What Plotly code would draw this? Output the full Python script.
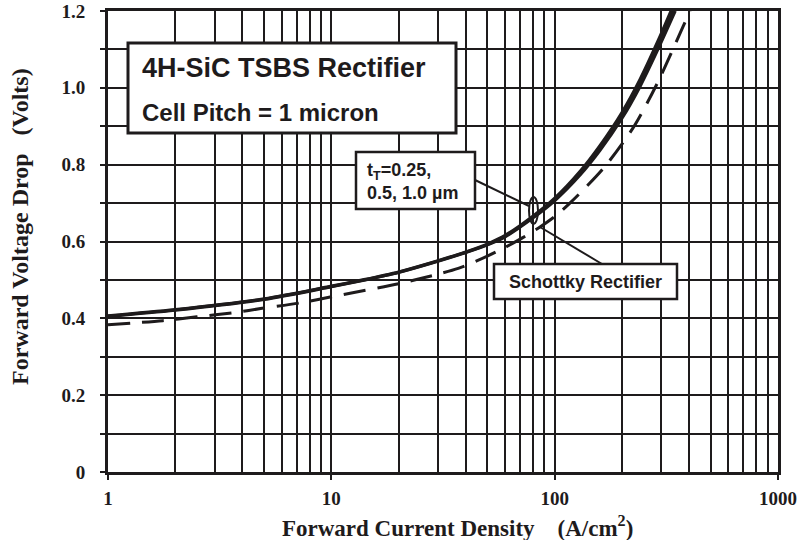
import plotly.graph_objects as go

# Forward current density (A/cm^2) and forward voltage drop (V)
tsbs_current = [1, 2, 5, 10, 14, 20, 28, 40, 51, 60, 79, 100, 130, 160, 200, 241, 290, 347]
tsbs_025_v = [0.405, 0.421, 0.449, 0.482, 0.499, 0.519, 0.543, 0.571, 0.593, 0.612, 0.659, 0.706, 0.773, 0.838, 0.920, 1.003, 1.100, 1.200]
tsbs_050_v = [0.406, 0.422, 0.450, 0.483, 0.500, 0.520, 0.544, 0.572, 0.594, 0.614, 0.661, 0.709, 0.778, 0.844, 0.928, 1.012, 1.111, 1.213]
tsbs_100_v = [0.407, 0.423, 0.451, 0.484, 0.501, 0.521, 0.545, 0.573, 0.596, 0.616, 0.664, 0.713, 0.783, 0.851, 0.936, 1.022, 1.122, 1.227]

schottky_current = [1, 1.76, 2.5, 3.7, 4.9, 7.4, 10, 20, 30, 37, 45, 57, 72, 85, 100, 117, 165, 224, 287, 376, 404]
schottky_v = [0.383, 0.394, 0.404, 0.415, 0.426, 0.441, 0.456, 0.490, 0.515, 0.530, 0.550, 0.578, 0.610, 0.636, 0.665, 0.700, 0.790, 0.895, 1.010, 1.160, 1.200]

x_major = [1, 10, 100, 1000]
x_minor = [m * d for d in (1, 10, 100) for m in range(2, 10)]
y_major = [0, 0.2, 0.4, 0.6, 0.8, 1.0, 1.2]
y_labels = ["0", "0.2", "0.4", "0.6", "0.8", "1.0", "1.2"]

INK = "#1e1b1c"
SERIF = "Liberation Serif, Times New Roman, serif"
SANS = "Liberation Sans, Arial, sans-serif"

fig = go.Figure()

for v in (tsbs_025_v, tsbs_050_v, tsbs_100_v):
    fig.add_trace(go.Scatter(x=tsbs_current, y=v, mode="lines",
                             line=dict(color=INK, width=3, shape="spline", smoothing=0.8),
                             showlegend=False, hoverinfo="skip"))

fig.add_trace(go.Scatter(x=schottky_current, y=schottky_v, mode="lines",
                         line=dict(color=INK, width=3, dash="22px,12px", shape="spline", smoothing=0.8),
                         showlegend=False, hoverinfo="skip"))

# plot-area geometry (pixels) used to place boxes and callouts
L, R, T, B = 108, 778, 11, 472
W, H = R - L, B - T


def px(x):
    return (x - L) / W


def py(y):
    return (B - y) / H


shapes = []
# title box
shapes.append(dict(type="rect", xref="paper", yref="paper", x0=px(128), x1=px(456), y0=py(133), y1=py(43),
                   fillcolor="white", line=dict(color=INK, width=3), layer="above"))
# trench-depth label box
shapes.append(dict(type="rect", xref="paper", yref="paper", x0=px(356), x1=px(475), y0=py(209), y1=py(152),
                   fillcolor="white", line=dict(color=INK, width=2.5), layer="above"))
# Schottky label box
shapes.append(dict(type="rect", xref="paper", yref="paper", x0=px(494), x1=px(677), y0=py(299), y1=py(264),
                   fillcolor="white", line=dict(color=INK, width=2.5), layer="above"))
# callout ellipse and leader lines
shapes.append(dict(type="circle", xref="paper", yref="paper", x0=px(529), x1=px(538), y0=py(224), y1=py(197),
                   line=dict(color=INK, width=2), layer="above"))
shapes.append(dict(type="line", xref="paper", yref="paper", x0=px(475), y0=py(180), x1=px(529), y1=py(206),
                   line=dict(color=INK, width=2), layer="above"))
shapes.append(dict(type="line", xref="paper", yref="paper", x0=px(540), y0=py(227), x1=px(602), y1=py(264),
                   line=dict(color=INK, width=2), layer="above"))

annotations = [
    dict(text="<b>4H-SiC TSBS Rectifier</b>", xref="paper", yref="paper", x=px(140), y=py(68),
         xanchor="left", yanchor="middle", showarrow=False, font=dict(family=SANS, size=27, color=INK)),
    dict(text="<b>Cell Pitch = 1 micron</b>", xref="paper", yref="paper", x=px(140), y=py(112),
         xanchor="left", yanchor="middle", showarrow=False, font=dict(family=SANS, size=24, color=INK)),
    dict(text="<b>t<sub>T</sub>=0.25,<br>0.5, 1.0 µm</b>", xref="paper", yref="paper", x=px(365), y=py(181),
         xanchor="left", yanchor="middle", align="left", showarrow=False,
         font=dict(family=SANS, size=18, color=INK)),
    dict(text="<b>Schottky Rectifier</b>", xref="paper", yref="paper", x=px(585), y=py(282),
         xanchor="center", yanchor="middle", showarrow=False, font=dict(family=SANS, size=18, color=INK)),
    dict(text="<b>Forward Current Density&nbsp;&nbsp;&nbsp;&nbsp;(A/cm<sup>2</sup>)</b>", xref="paper", yref="paper",
         x=px(457), y=py(526), xanchor="center", yanchor="middle", showarrow=False,
         font=dict(family=SERIF, size=23, color=INK)),
    dict(text="<b>Forward Voltage Drop&nbsp;&nbsp;&nbsp;(Volts)</b>", xref="paper", yref="paper",
         x=px(20), y=py(227), xanchor="center", yanchor="middle", textangle=-90, showarrow=False,
         font=dict(family=SERIF, size=24, color=INK)),
]

fig.update_layout(
    width=800, height=540,
    margin=dict(l=L, r=800 - R, t=T, b=540 - B, pad=0),
    paper_bgcolor="white", plot_bgcolor="white",
    shapes=shapes, annotations=annotations,
    xaxis=dict(type="log", range=[0, 3], tickvals=x_major, ticktext=[f"<b>{v}</b>" for v in x_major],
               ticks="outside", ticklen=5, tickwidth=1.5, tickcolor=INK,
               showgrid=True, gridcolor=INK, gridwidth=1.5,
               minor=dict(tickvals=x_minor, showgrid=True, gridcolor=INK, gridwidth=1.5, ticks=""),
               showline=True, linecolor=INK, linewidth=3, mirror=True, zeroline=False, automargin=False,
               tickfont=dict(family=SERIF, size=19, color=INK), ticklabelstandoff=2),
    yaxis=dict(range=[0, 1.2], tickvals=y_major, ticktext=[f"<b>{t}</b>" for t in y_labels],
               ticks="outside", ticklen=5, tickwidth=1.5, tickcolor=INK,
               showgrid=True, gridcolor=INK, gridwidth=1.5,
               minor=dict(dtick=0.1, showgrid=True, gridcolor=INK, gridwidth=1.5,
                          ticks="outside", ticklen=5, tickwidth=1.5, tickcolor=INK),
               showline=True, linecolor=INK, linewidth=3, mirror=True, zeroline=False, automargin=False,
               tickfont=dict(family=SERIF, size=19, color=INK), ticklabelstandoff=11),
)

fig.write_html("out.html")
